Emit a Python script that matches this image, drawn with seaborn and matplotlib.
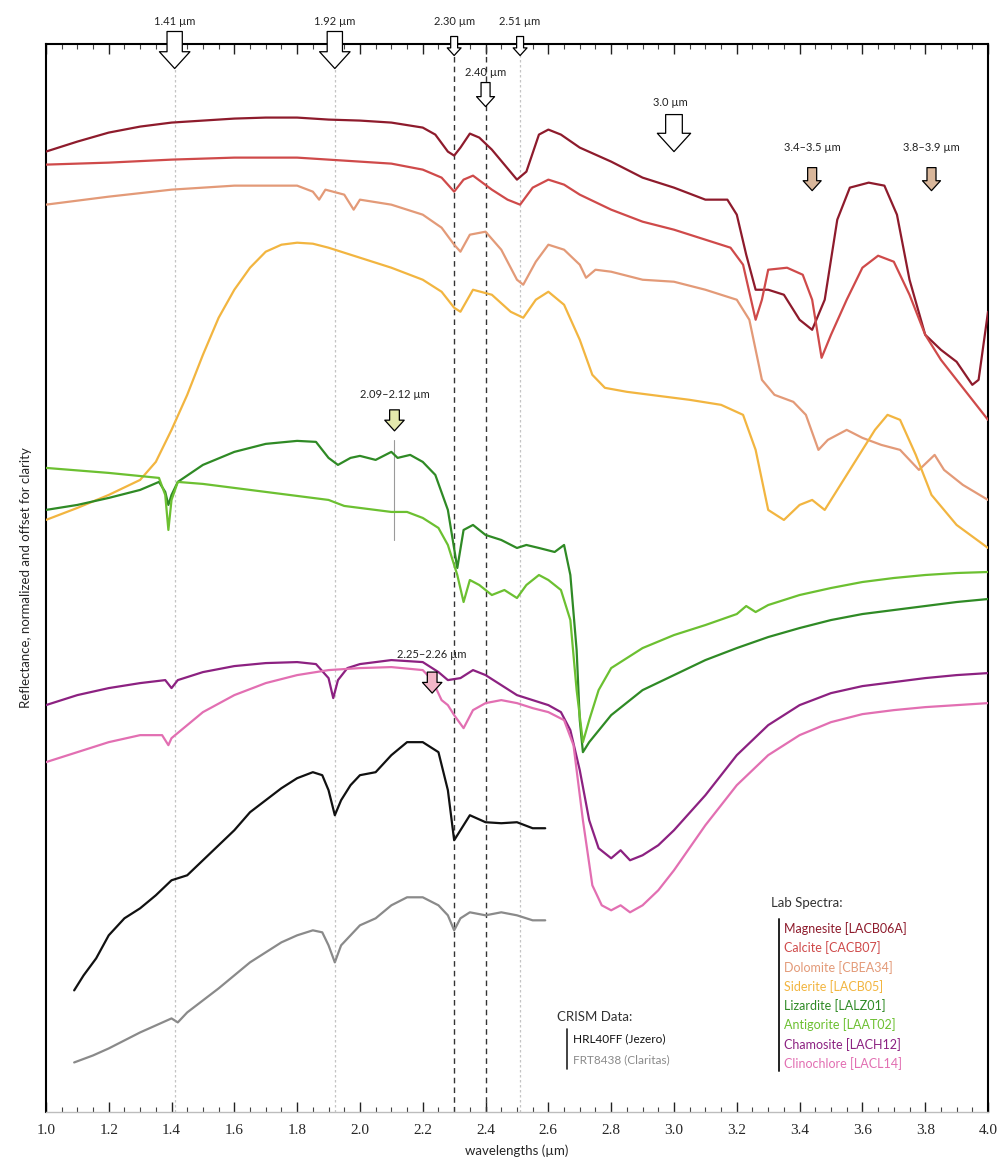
import numpy as np
import pandas as pd
import matplotlib
matplotlib.use("Agg")
import matplotlib.pyplot as plt
import seaborn as sns

# ---------------------------------------------------------------------------
# Spectra: wavelength (µm) and reflectance (normalized, offset for clarity)
# ---------------------------------------------------------------------------
magnesite_wl = [1.00, 1.10, 1.20, 1.30, 1.40, 1.50, 1.60, 1.70, 1.80, 1.90, 2.00, 2.10, 2.20, 2.24, 2.28,
                2.30, 2.32, 2.35, 2.38, 2.42, 2.46, 2.50, 2.53, 2.57, 2.60, 2.64, 2.70, 2.80, 2.90, 3.00,
                3.10, 3.17, 3.20, 3.23, 3.26, 3.30, 3.35, 3.40, 3.44, 3.48, 3.52, 3.56, 3.62, 3.67, 3.71,
                3.75, 3.80, 3.85, 3.90, 3.95, 3.97, 4.00]
magnesite_r = [.960, .970, .979, .985, .989, .991, .993, .994, .994, .992, .991, .989, .984, .977, .960,
               .956, .964, .978, .974, .962, .947, .932, .940, .977, .982, .977, .964, .950, .934, .924,
               .912, .912, .897, .857, .822, .822, .817, .792, .782, .812, .892, .924, .929, .926, .897,
               .832, .777, .762, .750, .727, .732, .800]

calcite_wl = [1.00, 1.20, 1.40, 1.60, 1.80, 1.90, 2.00, 2.10, 2.20, 2.26, 2.30, 2.33, 2.36, 2.42, 2.47,
              2.51, 2.55, 2.60, 2.65, 2.70, 2.80, 2.90, 3.00, 3.10, 3.18, 3.22, 3.26, 3.28, 3.30, 3.36,
              3.41, 3.44, 3.47, 3.50, 3.55, 3.60, 3.65, 3.70, 3.75, 3.80, 3.85, 3.90, 3.95, 4.00]
calcite_r = [.947, .949, .952, .954, .954, .952, .950, .948, .942, .934, .920, .932, .936, .922, .912,
             .907, .924, .932, .927, .917, .902, .890, .882, .872, .864, .847, .792, .812, .842, .844,
             .837, .812, .754, .777, .812, .844, .856, .850, .817, .777, .752, .732, .712, .692]

dolomite_wl = [1.00, 1.20, 1.40, 1.60, 1.80, 1.85, 1.87, 1.89, 1.95, 1.98, 2.00, 2.10, 2.20, 2.26, 2.30,
               2.32, 2.35, 2.40, 2.45, 2.50, 2.52, 2.56, 2.60, 2.65, 2.70, 2.72, 2.75, 2.80, 2.90, 3.00,
               3.10, 3.20, 3.24, 3.28, 3.32, 3.38, 3.42, 3.46, 3.49, 3.55, 3.60, 3.66, 3.72, 3.78, 3.83,
               3.86, 3.92, 4.00]
dolomite_r = [.907, .915, .922, .926, .926, .920, .912, .922, .917, .902, .912, .907, .897, .884, .867,
              .860, .877, .880, .862, .832, .827, .850, .867, .862, .847, .834, .842, .840, .832, .830,
              .822, .812, .792, .732, .717, .710, .697, .662, .672, .682, .674, .667, .662, .642, .657,
              .642, .627, .612]

siderite_wl = [1.00, 1.10, 1.20, 1.30, 1.35, 1.40, 1.45, 1.50, 1.55, 1.60, 1.65, 1.70, 1.75, 1.80, 1.85,
               1.90, 2.00, 2.10, 2.20, 2.26, 2.30, 2.32, 2.36, 2.42, 2.48, 2.52, 2.56, 2.60, 2.65, 2.70,
               2.74, 2.78, 2.85, 2.95, 3.05, 3.15, 3.22, 3.26, 3.30, 3.35, 3.40, 3.44, 3.48, 3.52, 3.58,
               3.64, 3.68, 3.72, 3.77, 3.82, 3.90, 4.00]
siderite_r = [.592, .604, .617, .632, .650, .682, .717, .757, .794, .822, .844, .860, .867, .869, .868,
              .864, .854, .844, .832, .820, .804, .800, .822, .817, .800, .794, .812, .820, .807, .772,
              .737, .724, .720, .716, .712, .707, .697, .662, .602, .592, .607, .612, .602, .622, .652,
              .682, .697, .692, .657, .617, .587, .564]

lizardite_wl = [1.00, 1.10, 1.20, 1.30, 1.36, 1.38, 1.39, 1.40, 1.42, 1.50, 1.60, 1.70, 1.80, 1.86, 1.90,
                1.93, 1.97, 2.00, 2.05, 2.10, 2.12, 2.16, 2.20, 2.24, 2.28, 2.31, 2.33, 2.36, 2.40, 2.45,
                2.50, 2.53, 2.57, 2.62, 2.65, 2.67, 2.69, 2.70, 2.71, 2.73, 2.80, 2.90, 3.00, 3.10, 3.20,
                3.30, 3.40, 3.50, 3.60, 3.70, 3.80, 3.90, 4.00]
lizardite_r = [.602, .607, .614, .622, .630, .620, .607, .617, .630, .647, .660, .668, .671, .670, .654,
               .647, .654, .656, .652, .660, .654, .657, .650, .637, .602, .544, .582, .587, .577, .572,
               .564, .567, .564, .560, .567, .537, .462, .392, .360, .370, .397, .422, .437, .452, .464,
               .475, .484, .492, .498, .502, .506, .510, .513]

antigorite_wl = [1.00, 1.20, 1.36, 1.38, 1.39, 1.40, 1.42, 1.50, 1.60, 1.70, 1.80, 1.90, 1.95, 2.00, 2.05,
                 2.10, 2.15, 2.20, 2.25, 2.28, 2.31, 2.33, 2.35, 2.38, 2.42, 2.46, 2.50, 2.53, 2.57, 2.60,
                 2.64, 2.67, 2.69, 2.71, 2.73, 2.76, 2.80, 2.90, 3.00, 3.10, 3.20, 3.23, 3.26, 3.30, 3.40,
                 3.50, 3.60, 3.70, 3.80, 3.90, 4.00]
antigorite_r = [.644, .639, .634, .617, .582, .612, .630, .628, .624, .620, .616, .612, .606, .604, .602,
                .600, .600, .594, .584, .567, .537, .510, .532, .527, .517, .522, .514, .527, .537, .532,
                .522, .492, .422, .370, .392, .422, .444, .464, .477, .487, .498, .506, .500, .507, .517,
                .524, .530, .534, .537, .539, .540]

chamosite_wl = [1.00, 1.10, 1.20, 1.30, 1.38, 1.40, 1.42, 1.50, 1.60, 1.70, 1.80, 1.86, 1.90, 1.915, 1.93,
                1.96, 2.00, 2.10, 2.20, 2.25, 2.28, 2.32, 2.36, 2.40, 2.45, 2.50, 2.55, 2.60, 2.64, 2.67,
                2.70, 2.73, 2.76, 2.80, 2.83, 2.86, 2.90, 2.95, 3.00, 3.10, 3.20, 3.30, 3.40, 3.50, 3.60,
                3.70, 3.80, 3.90, 4.00]
chamosite_r = [.407, .417, .424, .429, .432, .424, .432, .440, .446, .449, .450, .448, .434, .414, .432,
               .444, .448, .452, .450, .440, .432, .434, .442, .437, .427, .417, .412, .407, .400, .382,
               .342, .292, .264, .254, .262, .252, .257, .267, .282, .317, .357, .387, .407, .419, .426,
               .430, .434, .437, .439]

clinochlore_wl = [1.00, 1.10, 1.20, 1.30, 1.37, 1.39, 1.40, 1.50, 1.60, 1.70, 1.80, 1.90, 2.00, 2.10, 2.20,
                  2.23, 2.26, 2.28, 2.30, 2.33, 2.36, 2.40, 2.45, 2.50, 2.55, 2.60, 2.65, 2.68, 2.71, 2.74,
                  2.77, 2.80, 2.83, 2.86, 2.90, 2.95, 3.00, 3.10, 3.20, 3.30, 3.40, 3.50, 3.60, 3.70, 3.80,
                  3.90, 4.00]
clinochlore_r = [.350, .360, .370, .377, .377, .367, .374, .400, .417, .429, .437, .442, .444, .445, .442,
                 .432, .412, .407, .397, .384, .402, .409, .412, .409, .404, .400, .392, .367, .292, .227,
                 .207, .202, .207, .200, .207, .222, .242, .287, .327, .357, .377, .390, .398, .402, .405,
                 .407, .409]

hrl_wl = [1.09, 1.12, 1.16, 1.20, 1.25, 1.30, 1.35, 1.40, 1.45, 1.50, 1.55, 1.60, 1.65, 1.70, 1.75, 1.80,
          1.85, 1.88, 1.90, 1.92, 1.94, 1.97, 2.00, 2.05, 2.10, 2.15, 2.20, 2.25, 2.28, 2.30, 2.32, 2.35,
          2.40, 2.45, 2.50, 2.55, 2.59]
hrl_r = [.122, .137, .154, .177, .194, .204, .217, .232, .237, .252, .267, .282, .300, .312, .324, .334,
         .340, .337, .322, .297, .312, .327, .337, .340, .357, .370, .370, .360, .322, .272, .282, .297,
         .290, .289, .290, .284, .284]

frt_wl = [1.09, 1.15, 1.20, 1.25, 1.30, 1.35, 1.40, 1.42, 1.45, 1.50, 1.55, 1.60, 1.65, 1.70, 1.75, 1.80,
          1.85, 1.88, 1.90, 1.92, 1.94, 1.97, 2.00, 2.05, 2.10, 2.15, 2.20, 2.25, 2.28, 2.30, 2.32, 2.35,
          2.40, 2.45, 2.50, 2.55, 2.59]
frt_r = [.050, .057, .064, .072, .080, .087, .094, .090, .100, .112, .124, .137, .150, .160, .170, .177,
         .182, .180, .167, .150, .167, .177, .187, .194, .207, .215, .215, .207, .197, .182, .194, .200,
         .197, .200, .197, .192, .192]

lab_names = ["Magnesite [LACB06A]", "Calcite [CACB07]", "Dolomite [CBEA34]", "Siderite [LACB05]",
             "Lizardite [LALZ01]", "Antigorite [LAAT02]", "Chamosite [LACH12]", "Clinochlore [LACL14]"]
lab_colors = ["#8e1b2c", "#cf4a4a", "#e39a78", "#f2b540", "#2f8a25", "#6cc031", "#8c2181", "#e26fb2"]
lab_wl = [magnesite_wl, calcite_wl, dolomite_wl, siderite_wl,
          lizardite_wl, antigorite_wl, chamosite_wl, clinochlore_wl]
lab_r = [magnesite_r, calcite_r, dolomite_r, siderite_r,
         lizardite_r, antigorite_r, chamosite_r, clinochlore_r]

crism_names = ["HRL40FF (Jezero)", "FRT8438 (Claritas)"]
crism_colors = ["#111111", "#8a8a8a"]
crism_wl = [hrl_wl, frt_wl]
crism_r = [hrl_r, frt_r]

# Band positions (µm)
gray_band_lines = [1.41, 1.92, 2.51]
dark_band_lines = [2.30, 2.40]

# ---------------------------------------------------------------------------
sns.set_style("white")
plt.rcParams["font.family"] = ["Lato", "DejaVu Sans"]

fig = plt.figure(figsize=(9.98, 11.76), dpi=100)
ax = fig.add_axes([0.046, 0.054, 0.944, 0.909])

frames = []
for name, wl, r in zip(lab_names + crism_names, lab_wl + crism_wl, lab_r + crism_r):
    frames.append(pd.DataFrame({"wavelength": wl, "reflectance": r, "spectrum": name}))
spectra = pd.concat(frames, ignore_index=True)

palette = dict(zip(lab_names + crism_names, lab_colors + crism_colors))
sns.lineplot(data=spectra, x="wavelength", y="reflectance", hue="spectrum", palette=palette,
             sort=False, estimator=None, lw=1.6, legend=False, ax=ax, zorder=3)

ax.set_xlim(1.0, 4.0)
ax.set_ylim(0.0, 1.068)

for x in gray_band_lines:
    ax.axvline(x, color="#c4c4c4", ls=(0, (2, 2)), lw=0.9, zorder=1)
for x in dark_band_lines:
    ax.axvline(x, color="#333333", ls=(0, (4, 3)), lw=1.0, zorder=1)
ax.plot([2.11, 2.11], [0.572, 0.672], color="#9a9a9a", lw=0.8, zorder=1)


def block_arrow(x, y_tail, y_tip, scale, fc):
    ax.annotate("", xy=(x, y_tip), xytext=(x, y_tail), annotation_clip=False,
                arrowprops=dict(arrowstyle="simple,head_length=0.55,head_width=1.0,tail_width=0.5",
                                mutation_scale=scale, fc=fc, ec="black", lw=0.9,
                                shrinkA=0, shrinkB=0), zorder=6)


def band_label(x, y, text, size=8):
    ax.text(x, y, text, ha="center", va="center", fontsize=size, color="#222222",
            clip_on=False, zorder=6)


# top-axis band markers
block_arrow(1.41, 1.080, 1.043, 22, "white")
block_arrow(1.92, 1.080, 1.043, 22, "white")
block_arrow(2.30, 1.075, 1.056, 10, "white")
block_arrow(2.51, 1.075, 1.056, 10, "white")
band_label(1.41, 1.090, "1.41 µm")
band_label(1.92, 1.090, "1.92 µm")
band_label(2.30, 1.090, "2.30 µm")
band_label(2.51, 1.090, "2.51 µm")

block_arrow(2.40, 1.029, 1.005, 13, "white")
band_label(2.40, 1.039, "2.40 µm")

block_arrow(3.00, 0.997, 0.960, 24, "white")
band_label(2.99, 1.009, "3.0 µm")

block_arrow(3.44, 0.944, 0.921, 13, "#d9b79b")
block_arrow(3.82, 0.944, 0.921, 13, "#d9b79b")
band_label(3.44, 0.964, "3.4–3.5 µm")
band_label(3.82, 0.964, "3.8–3.9 µm")

block_arrow(2.11, 0.702, 0.681, 14, "#e4e9ad")
band_label(2.11, 0.717, "2.09–2.12 µm")

block_arrow(2.23, 0.440, 0.419, 14, "#f3b7c8")
band_label(2.23, 0.458, "2.25–2.26 µm")

# axes styling
ax.set_yticks([])
ax.set_xticks(np.round(np.arange(1.0, 4.01, 0.2), 1))
ax.set_xticks(np.arange(1.0, 4.001, 0.05), minor=True)
ax.set_xticklabels([f"{v:.1f}" for v in np.arange(1.0, 4.01, 0.2)],
                   fontfamily="Liberation Serif", fontsize=11)
ax.tick_params(axis="x", which="major", direction="in", length=7, width=1.0,
               top=True, bottom=True, color="#222222", pad=8)
ax.tick_params(axis="x", which="minor", direction="in", length=3.5, width=0.8,
               top=True, bottom=True, color="#444444")
for side in ["top", "left", "right"]:
    ax.spines[side].set_color("black")
    ax.spines[side].set_linewidth(1.5)
ax.spines["bottom"].set_color("#bdbdbd")
ax.spines["bottom"].set_linewidth(1.0)

ax.set_xlabel("wavelengths (µm)", fontsize=9.5, labelpad=6)
ax.set_ylabel("Reflectance, normalized and offset for clarity", fontsize=9.5, labelpad=10)

# legend blocks
trans = ax.transAxes


def fig_px(px, py):
    return ((px - 46) / 942, (1112 - py) / 1069)


x0, y0 = fig_px(771, 903)
ax.text(x0, y0, "Lab Spectra:", transform=trans, fontsize=9.5, color="#333333", va="center")
xl, _ = fig_px(779, 0)
ya = fig_px(0, 919)[1]
yb = fig_px(0, 1071)[1]
ax.plot([xl, xl], [ya, yb], transform=trans, color="#222222", lw=1.4, clip_on=False)
for i, (name, col) in enumerate(zip(lab_names, lab_colors)):
    tx, ty = fig_px(784, 928 + i * 19.3)
    ax.text(tx, ty, name, transform=trans, fontsize=9, color=col, va="center")

x0, y0 = fig_px(557, 1017)
ax.text(x0, y0, "CRISM Data:", transform=trans, fontsize=9.5, color="#333333", va="center")
xl, _ = fig_px(567, 0)
ya = fig_px(0, 1029)[1]
yb = fig_px(0, 1069)[1]
ax.plot([xl, xl], [ya, yb], transform=trans, color="#222222", lw=1.2, clip_on=False)
for i, (name, col) in enumerate(zip(crism_names, crism_colors)):
    tx, ty = fig_px(573, 1038 + i * 21)
    ax.text(tx, ty, name, transform=trans, fontsize=8.5, color=col, va="center")

fig.savefig("out.png", dpi=100)
